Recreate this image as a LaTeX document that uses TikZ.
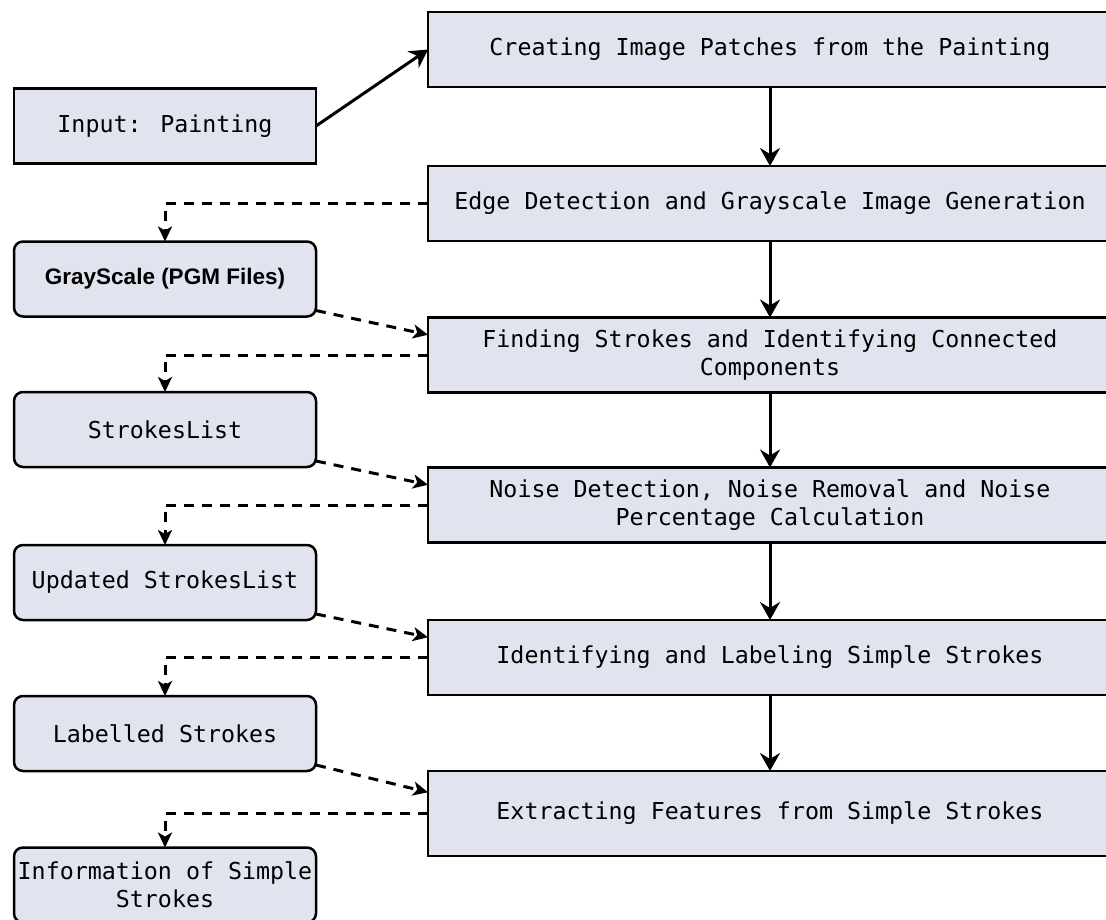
\documentclass[tikz,border=0pt]{standalone}
\usepackage{fontspec}
\newfontfamily\monof{DejaVu Sans Mono}
\newfontfamily\sansf{Liberation Sans}
\usetikzlibrary{arrows.meta,calc}
\definecolor{boxfill}{HTML}{E1E4EF}
\begin{document}
\begin{tikzpicture}[x=1pt,y=-1pt,
  box/.style={draw=black, line width=2.5pt, fill=boxfill, inner sep=0pt, outer sep=0pt,
    font=\monof\fontsize{23.3pt}{28pt}\selectfont, align=center},
  rbox/.style={box, minimum width=684pt, minimum height=75pt},
  lbox/.style={box, minimum width=302pt, minimum height=75pt},
  rlbox/.style={lbox, rounded corners=9pt},
  solidarrow/.style={line width=3pt, -{Stealth[length=18pt,width=20pt,inset=6pt]}},
  dasharrow/.style={line width=3pt, dash pattern=on 10pt off 8pt, -{Stealth[length=15pt,width=14pt,inset=4pt]}}]
\useasboundingbox (0,0) rectangle (1106,919);

% left column
\node[lbox] (input) at (165,126) {Input: Painting};
\node[rlbox, font=\sansf\bfseries\fontsize{22.5pt}{27pt}\selectfont] (gray) at (165,279) {GrayScale (PGM Files)};
\node[rlbox] (sl) at (165,429.5) {StrokesList};
\node[rlbox] (usl) at (165,582.5) {Updated StrokesList};
\node[rlbox] (lab) at (165,733.5) {Labelled Strokes};
\node[rlbox] (info) at (165,885) {Information of Simple\\Strokes};

% right column
\node[rbox] (create) at (770,49.5) {Creating Image Patches from the Painting};
\node[rbox] (edge) at (770,203.5) {Edge Detection and Grayscale Image Generation};
\node[rbox] (find) at (770,355) {Finding Strokes and Identifying Connected\\Components};
\node[rbox] (noise) at (770,505) {Noise Detection, Noise Removal and Noise\\Percentage Calculation};
\node[rbox] (ident) at (770,657.5) {Identifying and Labeling Simple Strokes};
\node[rbox, minimum height=85pt] (extr) at (770,813.5) {Extracting Features from Simple Strokes};

% solid connectors
\draw[solidarrow] (input.east) -- (create.west);
\foreach \a/\b in {create/edge, edge/find, find/noise, noise/ident, ident/extr}
  \draw[solidarrow] (\a.south) -- (\b.north);

% dashed outputs
\draw[dasharrow] (edge.west) -| (gray.north);
\draw[dasharrow] (find.west) -| (sl.north);
\draw[dasharrow] (noise.west) -| (usl.north);
\draw[dasharrow] (ident.west) -| (lab.north);
\draw[dasharrow] (extr.west) -| (info.north);

% dashed inputs
\draw[dasharrow] ($(gray.south east)+(0,-6)$) -- ($(find.north west)!0.23!(find.south west)$);
\draw[dasharrow] ($(sl.south east)+(0,-6)$) -- ($(noise.north west)!0.23!(noise.south west)$);
\draw[dasharrow] ($(usl.south east)+(0,-6)$) -- ($(ident.north west)!0.23!(ident.south west)$);
\draw[dasharrow] ($(lab.south east)+(0,-6)$) -- ($(extr.north west)!0.25!(extr.south west)$);
\end{tikzpicture}
\end{document}
